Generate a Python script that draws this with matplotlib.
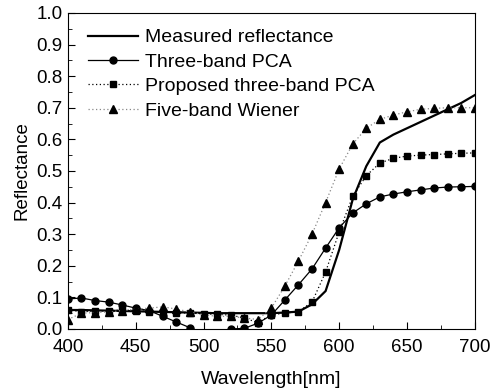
import matplotlib
matplotlib.use("Agg")
import matplotlib.pyplot as plt
import numpy as np
from matplotlib.ticker import MultipleLocator

plt.rcParams['font.family'] = ['Liberation Sans', 'DejaVu Sans']

wavelength = list(range(400, 701, 10))
measured = [0.060, 0.060, 0.059, 0.058, 0.057, 0.056, 0.055, 0.054, 0.053, 0.052,
            0.051, 0.050, 0.050, 0.050, 0.050, 0.050, 0.052, 0.055, 0.078, 0.120,
            0.250, 0.410, 0.515, 0.590, 0.615, 0.635, 0.655, 0.675, 0.695, 0.715, 0.740]
pca3 = [0.095, 0.098, 0.090, 0.085, 0.076, 0.066, 0.058, 0.040, 0.022, 0.004,
        -0.012, -0.015, 0.000, 0.002, 0.018, 0.044, 0.092, 0.140, 0.190, 0.256,
        0.320, 0.367, 0.396, 0.418, 0.427, 0.434, 0.440, 0.446, 0.449, 0.450, 0.451]
proposed = [0.060, 0.055, 0.056, 0.058, 0.060, 0.058, 0.055, 0.053, 0.052, 0.050,
            0.048, 0.046, 0.044, 0.035, 0.020, 0.045, 0.050, 0.055, 0.085, 0.180,
            0.307, 0.420, 0.485, 0.525, 0.540, 0.547, 0.550, 0.552, 0.554, 0.556, 0.557]
wiener = [0.030, 0.050, 0.052, 0.054, 0.058, 0.063, 0.066, 0.070, 0.063, 0.054,
          0.045, 0.040, 0.040, 0.035, 0.030, 0.066, 0.136, 0.215, 0.300, 0.400,
          0.506, 0.585, 0.635, 0.663, 0.677, 0.687, 0.695, 0.698, 0.700, 0.700, 0.700]

fig = plt.figure(figsize=(4.92, 3.91), dpi=100)
ax = fig.add_axes([0.138, 0.1586, 0.827, 0.8084])

ax.plot(wavelength, measured, color='black', lw=1.6, label='Measured reflectance')
ax.plot(wavelength, pca3, color='black', lw=0.9, marker='o', ms=5, label='Three-band PCA')
ax.plot(wavelength, proposed, color='black', lw=0.9, ls=(0, (1, 2)), marker='s', ms=4.5,
        label='Proposed three-band PCA')
ax.plot(wavelength, wiener, color='#888888', lw=0.9, ls=(0, (1, 2)), marker='^', ms=6,
        mfc='black', mec='black', label='Five-band Wiener')

ax.set_xlim(400, 700)
ax.set_ylim(0, 1.0)
ax.xaxis.set_major_locator(MultipleLocator(50))
ax.xaxis.set_minor_locator(MultipleLocator(25))
ax.yaxis.set_major_locator(MultipleLocator(0.1))
ax.yaxis.set_minor_locator(MultipleLocator(0.05))
ax.yaxis.set_major_formatter(matplotlib.ticker.FormatStrFormatter('%.1f'))
ax.tick_params(which='both', direction='in', labelsize=13.5)
ax.tick_params(which='major', length=5)
ax.tick_params(which='minor', length=3)
ax.tick_params(axis='x', pad=7)
ax.tick_params(axis='y', pad=4)
ax.set_xlabel('Wavelength[nm]', fontsize=14, labelpad=11)
ax.set_ylabel('Reflectance', fontsize=13.5, labelpad=4)

ax.legend(loc='upper left', frameon=False, fontsize=14, handlelength=2.6,
          borderaxespad=0.0, borderpad=0.0, labelspacing=0.35, handletextpad=0.35,
          bbox_to_anchor=(0.049, 0.95))

fig.savefig('out.png', dpi=100)
